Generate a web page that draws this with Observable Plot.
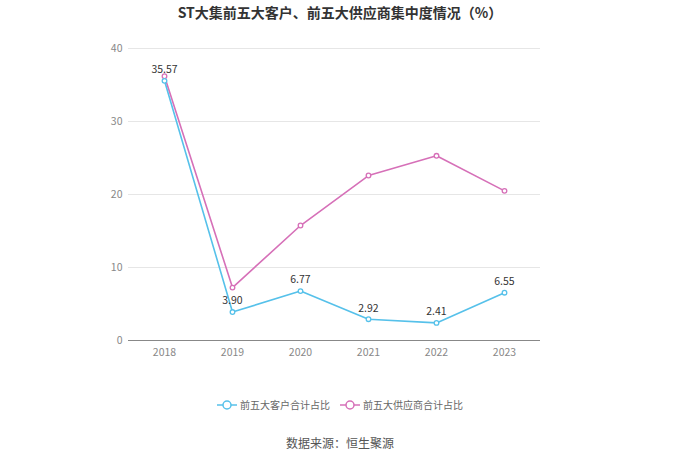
<!DOCTYPE html>
<html><head><meta charset="utf-8">
<script src="https://cdn.jsdelivr.net/npm/d3@7"></script>
<script src="https://cdn.jsdelivr.net/npm/@observablehq/plot@0.6"></script>
<style>
body{margin:0;width:680px;height:460px;background:#fff;font-family:"Noto Sans CJK SC","Noto Sans",sans-serif;position:relative;overflow:hidden}
#title{position:absolute;top:2px;left:0;width:680px;text-align:center;font-size:14px;font-weight:bold;color:#333;line-height:20px}
#chart{position:absolute;top:30px;left:0}
#legend{position:absolute;top:397px;left:0;width:680px;display:flex;justify-content:center;gap:10px;font-size:10px;color:#666}
#legend span{display:flex;align-items:center;gap:3px}
#source{position:absolute;top:434px;left:0;width:680px;text-align:center;font-size:12px;color:#555}
</style></head><body>
<div id="title">ST大集前五大客户、前五大供应商集中度情况（%）</div>
<div id="chart"></div>
<div id="legend"></div>
<div id="source">数据来源：恒生聚源</div>
<script>
const years = ["2018","2019","2020","2021","2022","2023"];
const customers = [35.57, 3.90, 6.77, 2.92, 2.41, 6.55];
const suppliers = [36.2, 7.25, 15.75, 22.6, 25.3, 20.5];
const seriesNames = ["前五大客户合计占比","前五大供应商合计占比"];
const colors = ["#56c1ea","#d670b8"];
const yTicks = [0,10,20,30,40];

const data = [];
years.forEach((y,i)=>{
  data.push({year:y, value:customers[i], s:seriesNames[0]});
  data.push({year:y, value:suppliers[i], s:seriesNames[1]});
});
const custData = data.filter(d=>d.s===seriesNames[0]);
const supData = data.filter(d=>d.s===seriesNames[1]);

const plot = Plot.plot({
  width:680, height:340,
  marginTop:18, marginBottom:30, marginLeft:128, marginRight:140,
  style:{fontFamily:'"Noto Sans CJK SC","Noto Sans",sans-serif', fontSize:"10.5px", color:"#888"},
  x:{type:"point", domain:years, padding:0.5, label:null},
  y:{domain:[0,40], ticks:yTicks, label:null},
  marks:[
    Plot.gridY(yTicks, {stroke:"#e6e6e6", strokeOpacity:1}),
    Plot.axisY({ticks:yTicks, tickSize:0, tickPadding:6, fill:"#888", label:null}),
    Plot.axisX({tickSize:0, tickPadding:8, fill:"#888", label:null}),
    Plot.ruleY([0], {stroke:"#888"}),
    Plot.line(supData, {x:"year", y:"value", stroke:colors[1], strokeWidth:1.6}),
    Plot.line(custData, {x:"year", y:"value", stroke:colors[0], strokeWidth:1.6}),
    Plot.dot(supData, {x:"year", y:"value", r:2.3, fill:"#fff", stroke:colors[1], strokeWidth:1.3}),
    Plot.dot(custData, {x:"year", y:"value", r:2.3, fill:"#fff", stroke:colors[0], strokeWidth:1.3}),
    Plot.text(custData, {x:"year", y:"value", text:d=>d.value.toFixed(2), dy:-11, fill:"#333", fontSize:10.5})
  ]
});
document.getElementById("chart").appendChild(plot);

const leg = document.getElementById("legend");
seriesNames.forEach((n,i)=>{
  const sp = document.createElement("span");
  sp.innerHTML = `<svg width="20" height="12"><line x1="0" y1="6" x2="20" y2="6" stroke="${colors[i]}" stroke-width="1.5"/><circle cx="10" cy="6" r="4" fill="#fff" stroke="${colors[i]}" stroke-width="1.5"/></svg>${n}`;
  leg.appendChild(sp);
});
</script>
</body></html>
